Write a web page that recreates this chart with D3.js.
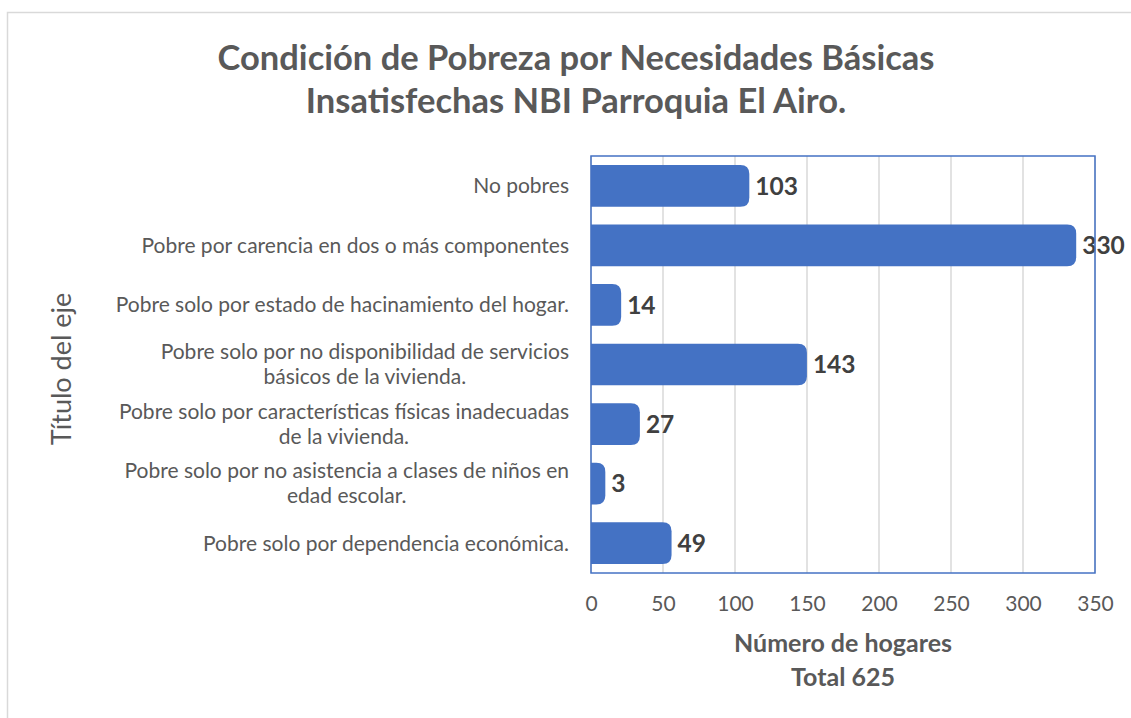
<!DOCTYPE html>
<html>
<head>
<meta charset="utf-8">
<script src="https://cdn.jsdelivr.net/npm/d3@7"></script>
<style>
  body { margin: 0; background: #fff; }
  text { font-family: Lato, "Open Sans", sans-serif; }
</style>
</head>
<body>
<svg id="drawing_region"></svg>
<script>
// categorias de arriba hacia abajo
const categories = [
    ["No pobres"],
    ["Pobre por carencia en dos o más componentes"],
    ["Pobre solo por estado de hacinamiento del hogar."],
    ["Pobre solo por no disponibilidad de servicios", "básicos de la vivienda."],
    ["Pobre solo por características físicas inadecuadas", "de la vivienda."],
    ["Pobre solo por no asistencia a clases de niños en", "edad escolar."],
    ["Pobre solo por dependencia económica."]
];
const values = [103, 330, 14, 143, 27, 3, 49];
const xticks = [0, 50, 100, 150, 200, 250, 300, 350];
const titleLines = ["Condición de Pobreza por Necesidades Básicas", "Insatisfechas NBI Parroquia El Airo."];
const xTitleLines = ["Número de hogares", "Total 625"];
const yTitle = "Título del eje";

const config = {
    width: 1131,
    height: 718,
    margin: {top: 156, right: 36, bottom: 145, left: 591}
};

const svg = d3.select('#drawing_region')
    .attr('width', config.width)
    .attr('height', config.height);

// borde exterior del grafico
svg.append('rect')
    .attr('x', 7.5).attr('y', 12.5)
    .attr('width', 1140).attr('height', 720)
    .attr('fill', 'none')
    .attr('stroke', '#d9d9d9')
    .attr('stroke-width', 1.5);

const inner_width = config.width - config.margin.left - config.margin.right;
const inner_height = config.height - config.margin.top - config.margin.bottom;

const chart = svg.append('g')
    .attr('transform', `translate(${config.margin.left}, ${config.margin.top})`);

const xscale = d3.scaleLinear()
    .domain([0, 350])
    .range([0, inner_width]);

const yscale = d3.scaleBand()
    .domain(d3.range(categories.length))
    .range([0, inner_height])
    .paddingInner(0.3)
    .paddingOuter(0.15);

// lineas de cuadricula
chart.append('g')
    .selectAll('line')
    .data(xticks)
    .join('line')
    .attr('x1', d => xscale(d)).attr('x2', d => xscale(d))
    .attr('y1', 0).attr('y2', inner_height)
    .attr('stroke', '#d9d9d9')
    .attr('stroke-width', 1.5);

// barras (extremo redondeado)
const ext = 10;
chart.append('g')
    .selectAll('path')
    .data(values)
    .join('path')
    .attr('fill', '#4472c4')
    .attr('d', (d, i) => {
        const y0 = yscale(i), h = yscale.bandwidth();
        const x1 = xscale(d) + ext, r = 9;
        return `M0,${y0} H${x1 - r} Q${x1},${y0} ${x1},${y0 + r} V${y0 + h - r} Q${x1},${y0 + h} ${x1 - r},${y0 + h} H0 Z`;
    });

// etiquetas de valor
chart.append('g')
    .selectAll('text')
    .data(values)
    .join('text')
    .attr('x', d => xscale(d) + ext + 6)
    .attr('y', (d, i) => yscale(i) + yscale.bandwidth() / 2)
    .attr('dy', '0.36em')
    .attr('fill', '#404040')
    .style('font-size', '24.5px')
    .style('font-weight', 'bold')
    .text(d => d);

// borde del area de trazado
chart.append('rect')
    .attr('x', 0).attr('y', 0)
    .attr('width', inner_width).attr('height', inner_height)
    .attr('fill', 'none')
    .attr('stroke', '#4472c4')
    .attr('stroke-width', 1.5);

// eje x
const xaxis = d3.axisBottom(xscale).tickValues(xticks).tickSize(0).tickPadding(23);
const xaxis_group = chart.append('g')
    .attr('transform', `translate(0, ${inner_height})`)
    .call(xaxis);
xaxis_group.select('.domain').remove();
xaxis_group.selectAll('text')
    .attr('fill', '#595959')
    .style('font-size', '21px')
    .style('font-family', 'Lato, sans-serif');

// etiquetas de categoria (lineas centradas, bloque alineado a la derecha)
const labelRight = -22;
const catGroup = chart.append('g')
    .attr('fill', '#595959')
    .style('font-size', '21px');
categories.forEach((lines, i) => {
    const cy = yscale(i) + yscale.bandwidth() / 2;
    const lh = 25;
    const t = catGroup.append('text');
    lines.forEach((s, j) => {
        t.append('tspan')
            .attr('y', cy + (j - (lines.length - 1) / 2) * lh)
            .attr('dy', '0.35em')
            .text(s);
    });
    const widths = t.selectAll('tspan').nodes().map(n => n.getComputedTextLength());
    const bw = d3.max(widths);
    t.attr('text-anchor', 'middle');
    t.selectAll('tspan').attr('x', labelRight - bw / 2);
});

// titulo
svg.append('g')
    .selectAll('text')
    .data(titleLines)
    .join('text')
    .attr('x', 576)
    .attr('y', (d, i) => 70 + i * 43)
    .attr('text-anchor', 'middle')
    .attr('fill', '#595959')
    .style('font-size', '34.5px')
    .style('font-weight', 'bold')
    .text(d => d);

// titulo eje x
svg.append('g')
    .selectAll('text')
    .data(xTitleLines)
    .join('text')
    .attr('x', config.margin.left + inner_width / 2)
    .attr('y', (d, i) => 652 + i * 34)
    .attr('text-anchor', 'middle')
    .attr('fill', '#595959')
    .style('font-size', '25px')
    .style('font-weight', 'bold')
    .text(d => d);

// titulo eje y
svg.append('text')
    .attr('x', -369)
    .attr('y', 71)
    .attr('transform', 'rotate(-90)')
    .attr('text-anchor', 'middle')
    .attr('fill', '#595959')
    .style('font-size', '27px')
    .text(yTitle);
</script>
</body>
</html>
